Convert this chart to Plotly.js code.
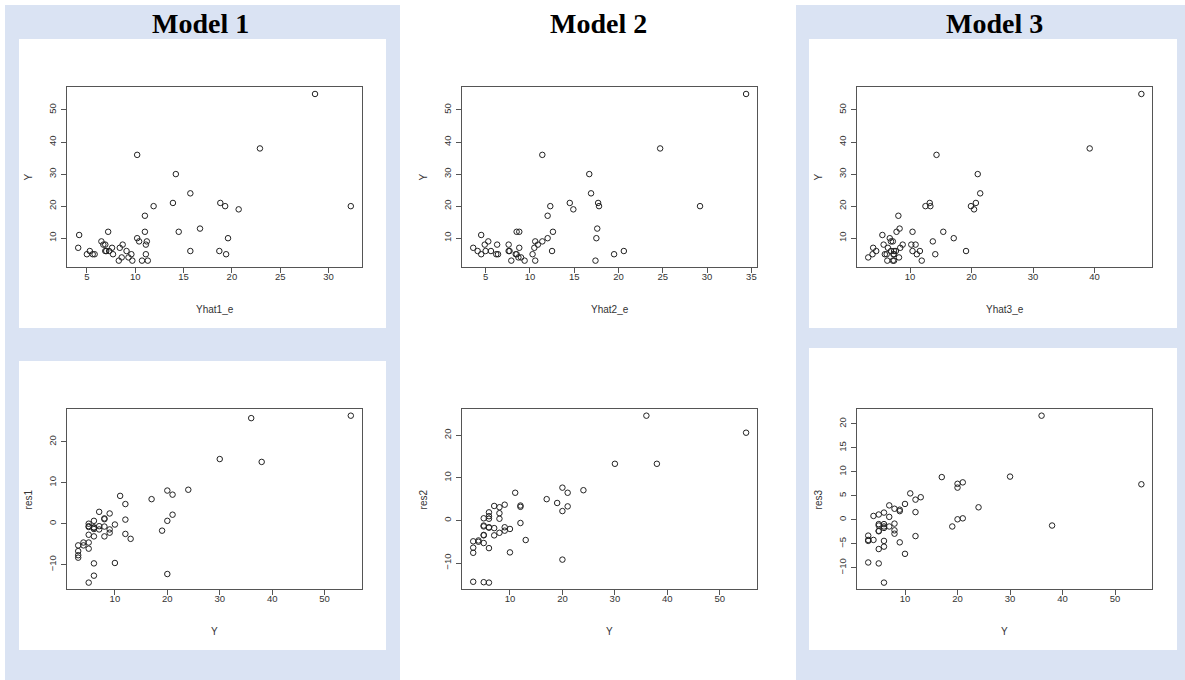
<!DOCTYPE html>
<html>
<head>
<meta charset="utf-8">
<script src="https://cdn.plot.ly/plotly-3.0.1.min.js"></script>
<style>html,body{margin:0;padding:0;background:#fff;}#chart{width:1185px;height:680px;}</style>
</head>
<body>
<div id="chart"></div>
<script>
// ---- data ----
const Y = [55,38,36,30,24,21,21,20,20,20,19,17,13,12,12,12,11,10,10,9,9,9,8,8,8,8,7,7,7,6,6,6,6,6,6,6,5,5,5,5,5,5,5,4,4,3,3,3,3];
const yhat1 = [28.6,22.9,10.2,14.2,15.7,13.9,18.8,11.9,19.3,32.3,20.7,11.0,16.7,7.2,11.0,14.5,4.2,10.2,19.6,6.5,10.4,11.2,6.7,6.9,8.7,11.1,4.1,7.6,8.4,5.3,6.9,7.0,7.3,9.1,15.7,18.7,5.0,5.6,5.8,7.7,9.6,11.1,19.4,8.6,9.3,8.3,9.7,10.7,11.3];
const yhat2 = [34.4,24.7,11.4,16.7,16.9,14.5,17.7,12.3,17.8,29.2,14.9,12.0,17.6,8.5,8.8,12.6,4.5,12.0,17.5,5.3,10.6,11.4,4.9,6.3,7.6,10.9,3.6,8.8,10.5,4.1,5.0,5.6,7.6,7.7,12.5,20.6,4.5,6.2,6.4,8.4,8.5,10.3,19.5,8.7,9.0,7.9,9.4,10.6,17.4];
const yhat3 = [47.6,39.2,14.3,21.0,21.4,13.2,20.7,12.5,13.3,19.9,20.4,8.1,8.3,7.8,10.4,15.4,5.5,6.7,17.1,6.9,7.2,13.7,5.7,8.8,10.2,10.9,4.0,6.4,8.4,4.5,6.9,7.4,7.7,10.4,11.6,19.1,3.9,5.9,6.2,7.3,7.4,11.1,14.1,3.2,8.2,6.3,7.2,7.4,11.9];
const res1 = [26.4,15.1,25.8,15.8,8.3,7.1,2.2,8.1,0.7,-12.3,-1.7,6.0,-3.7,4.8,1.0,-2.5,6.8,-0.2,-9.6,2.5,-1.4,-2.2,1.3,1.1,-0.7,-3.1,2.9,-0.6,-1.4,0.7,-0.9,-1.0,-1.3,-3.1,-9.7,-12.7,0.0,-0.6,-0.8,-2.7,-4.6,-6.1,-14.4,-4.6,-5.3,-5.3,-6.7,-7.7,-8.3];
const res2 = [20.6,13.3,24.6,13.3,7.1,6.5,3.3,7.7,2.2,-9.2,4.1,5.0,-4.6,3.5,3.2,-0.6,6.5,-2.0,-7.5,3.7,-1.6,-2.4,3.1,1.7,0.4,-2.9,3.4,-1.8,-3.5,1.9,1.0,0.4,-1.6,-1.7,-6.5,-14.6,0.5,-1.2,-1.4,-3.4,-3.5,-5.3,-14.5,-4.7,-5.0,-4.9,-6.4,-7.6,-14.4];
const res3 = [7.4,-1.2,21.7,9.0,2.6,7.8,0.3,7.5,6.7,0.1,-1.4,8.9,4.7,4.2,1.6,-3.4,5.5,3.3,-7.1,2.1,1.8,-4.7,2.3,-0.8,-2.2,-2.9,3.0,0.6,-1.4,1.5,-0.9,-1.4,-1.7,-4.4,-5.6,-13.1,1.1,-0.9,-1.2,-2.3,-2.4,-6.1,-9.1,0.8,-4.2,-3.3,-4.2,-4.4,-8.9];

const modelTitles = ['Model 1','Model 2','Model 3'];
const xTitlesTop = ['Yhat1_e','Yhat2_e','Yhat3_e'];
const yTitlesBottom = ['res1','res2','res3'];
const xTicksTop = [[5,10,15,20,25,30],[5,10,15,20,25,30,35],[10,20,30,40]];
const yTicksTop = [10,20,30,40,50];
const xTicksBottom = [10,20,30,40,50];
const yTicksBottom = [[-10,0,10,20],[-10,0,10,20],[-10,-5,0,5,10,15,20]];

// ---- layout helpers ----
const W = 1185, H = 680;
const px = v => v / W;
const py = v => 1 - v / H;
const colX = [[67.3,361.7],[462.3,757.0],[857.3,1152.3]];
const rowY = [[87.3,267.3],[409.0,589.3]];
const titleCX = [200, 598.3, 994];

function rRange(arr){ // R's default 4% axis extension
  let mn = Math.min(...arr), mx = Math.max(...arr), d = (mx - mn) * 0.04;
  return [mn - d, mx + d];
}

const font = 'Liberation Sans, Arial, sans-serif';
const axisBase = {
  showline: true, mirror: true, linecolor: '#555', linewidth: 1,
  ticks: 'outside', ticklen: 5, tickwidth: 1, tickcolor: '#555',
  showgrid: false, zeroline: false, fixedrange: true,
  tickfont: {family: font, size: 9.5, color: '#333'}
};

const xs = [yhat1, yhat2, yhat3, Y, Y, Y];
const ys = [Y, Y, Y, res1, res2, res3];
const traces = [];
const layout = {
  width: W, height: H, margin: {l:0, r:0, t:0, b:0},
  paper_bgcolor: '#ffffff', plot_bgcolor: 'rgba(0,0,0,0)',
  showlegend: false, shapes: [], annotations: []
};

for (let i = 0; i < 6; i++) {
  const col = i % 3, row = Math.floor(i / 3);
  const n = i + 1;
  const xa = 'xaxis' + (n === 1 ? '' : n), ya = 'yaxis' + (n === 1 ? '' : n);
  const xr = 'x' + (n === 1 ? '' : n), yr = 'y' + (n === 1 ? '' : n);
  traces.push({
    type: 'scatter', mode: 'markers', x: xs[i], y: ys[i], xaxis: xr, yaxis: yr,
    marker: {symbol: 'circle-open', size: 5.5, color: '#222', line: {width: 1, color: '#222'}},
    hoverinfo: 'x+y'
  });
  layout[xa] = Object.assign({}, axisBase, {
    domain: [px(colX[col][0]), px(colX[col][1])],
    range: rRange(xs[i]), anchor: yr, ticklabelstandoff: -5,
    tickmode: 'array', tickvals: row === 0 ? xTicksTop[col] : xTicksBottom
  });
  layout[ya] = Object.assign({}, axisBase, {
    domain: [py(rowY[row][1]), py(rowY[row][0])],
    range: rRange(ys[i]), anchor: xr, tickangle: -90, ticklabelstandoff: 2,
    tickmode: 'array', tickvals: row === 0 ? yTicksTop : yTicksBottom[col]
  });
  // axis titles
  layout.annotations.push({
    xref: xr + ' domain', yref: yr + ' domain', x: 0.5, y: 0, yshift: -42,
    xanchor: 'center', yanchor: 'middle', showarrow: false,
    text: row === 0 ? xTitlesTop[col] : 'Y',
    font: {family: font, size: 10, color: '#333'}
  });
  layout.annotations.push({
    xref: xr + ' domain', yref: yr + ' domain', x: 0, y: 0.5, xshift: -39,
    xanchor: 'center', yanchor: 'middle', showarrow: false, textangle: -90,
    text: row === 0 ? 'Y' : yTitlesBottom[col],
    font: {family: font, size: 10, color: '#333'}
  });
}

// column titles
for (let c = 0; c < 3; c++) {
  layout.annotations.push({
    xref: 'paper', yref: 'paper', x: px(titleCX[c]), y: py(23.5),
    xanchor: 'center', yanchor: 'middle', showarrow: false,
    text: '<b>' + modelTitles[c] + '</b>',
    font: {family: 'Liberation Serif, Times New Roman, serif', size: 28, color: '#000'}
  });
}

// backgrounds
const blue = '#dae3f3';
function rect(x0, y0, x1, y1, color){
  return {type:'rect', xref:'paper', yref:'paper', layer:'below',
    x0: px(x0), x1: px(x1), y0: py(y1), y1: py(y0), fillcolor: color, line:{width:0}};
}
layout.shapes.push(rect(5, 5, 400, 680, blue));
layout.shapes.push(rect(796, 5, 1185, 680, blue));
layout.shapes.push(rect(19, 39, 386, 328, '#ffffff'));
layout.shapes.push(rect(19, 361, 386, 650, '#ffffff'));
layout.shapes.push(rect(809, 39, 1177, 328, '#ffffff'));
layout.shapes.push(rect(809, 348, 1177, 650, '#ffffff'));

Plotly.newPlot('chart', traces, layout, {displayModeBar: false, staticPlot: true});
</script>
</body>
</html>
